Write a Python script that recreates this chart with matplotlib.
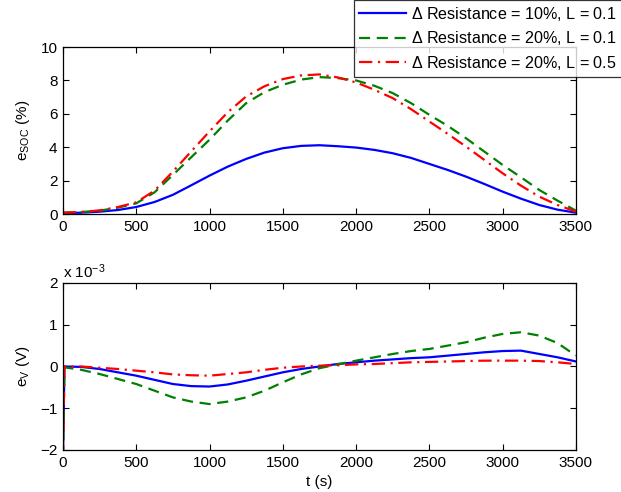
import matplotlib
matplotlib.use("Agg")
import matplotlib.pyplot as plt
import numpy as np

plt.rcParams['font.family'] = ['Liberation Sans', 'DejaVu Sans']
plt.rcParams['mathtext.fontset'] = 'custom'
plt.rcParams['mathtext.rm'] = 'Liberation Sans'
plt.rcParams['mathtext.it'] = 'Liberation Sans:italic'
plt.rcParams['font.size'] = 11

# time grid (s)
t_soc = list(range(0, 3501, 125))
# SOC estimation error (%)
soc_r10_l01 = [0.05, 0.08, 0.14, 0.24, 0.42, 0.72, 1.15, 1.72, 2.3, 2.84, 3.3, 3.68, 3.94, 4.08, 4.12,
               4.06, 3.98, 3.84, 3.64, 3.36, 3.0, 2.64, 2.24, 1.8, 1.34, 0.92, 0.54, 0.26, 0.08]
soc_r20_l01 = [0.08, 0.12, 0.2, 0.38, 0.64, 1.3, 2.34, 3.4, 4.45, 5.6, 6.64, 7.3, 7.74, 8.05, 8.2,
               8.14, 8.0, 7.68, 7.24, 6.64, 5.94, 5.28, 4.54, 3.74, 2.94, 2.2, 1.44, 0.8, 0.2]
soc_r20_l05 = [0.08, 0.12, 0.22, 0.42, 0.7, 1.4, 2.54, 3.75, 4.95, 6.1, 7.04, 7.65, 8.08, 8.3, 8.36,
               8.18, 7.88, 7.44, 6.94, 6.28, 5.54, 4.8, 4.04, 3.24, 2.44, 1.7, 1.04, 0.54, 0.14]

# voltage estimation error (V)
t_v = [0, 10] + list(range(125, 3501, 125))
v_r10_l01 = np.array([-2.2, 0.0, -0.01, -0.06, -0.14, -0.22, -0.32, -0.42, -0.47, -0.48, -0.43, -0.34,
                      -0.24, -0.14, -0.06, 0.0, 0.06, 0.1, 0.14, 0.17, 0.2, 0.22, 0.26, 0.3, 0.34,
                      0.37, 0.38, 0.3, 0.22, 0.12]) * 1e-3
v_r20_l01 = np.array([-2.2, -0.02, -0.08, -0.18, -0.3, -0.42, -0.58, -0.74, -0.84, -0.9, -0.84, -0.74,
                      -0.58, -0.38, -0.19, -0.04, 0.05, 0.14, 0.22, 0.3, 0.37, 0.42, 0.5, 0.58, 0.69,
                      0.78, 0.82, 0.74, 0.56, 0.26]) * 1e-3
v_r20_l05 = np.array([-2.2, 0.0, 0.0, -0.03, -0.06, -0.1, -0.14, -0.19, -0.21, -0.22, -0.18, -0.14,
                      -0.08, -0.03, 0.0, 0.02, 0.03, 0.05, 0.06, 0.08, 0.1, 0.11, 0.12, 0.13, 0.14,
                      0.14, 0.14, 0.13, 0.1, 0.06]) * 1e-3

labels = [r'$\Delta$ Resistance = 10%, L = 0.1',
          r'$\Delta$ Resistance = 20%, L = 0.1',
          r'$\Delta$ Resistance = 20%, L = 0.5']

fig = plt.figure(figsize=(6.21, 4.92), dpi=100)
ax1 = fig.add_axes([0.1014, 0.565, 0.826, 0.3394])
ax2 = fig.add_axes([0.1014, 0.0854, 0.826, 0.3394])

lw = 1.6
green_dash = (5, 3)
red_dashdot = (6, 2.5, 1, 2.5)

l1, = ax1.plot(t_soc, soc_r10_l01, color='blue', lw=lw, label=labels[0])
l2, = ax1.plot(t_soc, soc_r20_l01, color='green', lw=lw, dashes=green_dash, label=labels[1])
l3, = ax1.plot(t_soc, soc_r20_l05, color='red', lw=lw, dashes=red_dashdot, label=labels[2])

ax2.plot(t_v, v_r10_l01 * 1e3, color='blue', lw=lw)
ax2.plot(t_v, v_r20_l01 * 1e3, color='green', lw=lw, dashes=green_dash)
ax2.plot(t_v, v_r20_l05 * 1e3, color='red', lw=lw, dashes=red_dashdot)

for ax in (ax1, ax2):
    ax.set_xlim(0, 3500)
    ax.set_xticks(np.arange(0, 3501, 500))
    ax.tick_params(direction='in', top=True, right=True, length=4, width=0.8, labelsize=11, pad=4)
    for s in ax.spines.values():
        s.set_linewidth(0.9)

ax1.set_ylim(0, 10)
ax1.set_yticks(np.arange(0, 11, 2))
ax1.set_ylabel(r'e$_{\mathrm{SOC}}$ (%)', fontsize=11, labelpad=6)

ax2.set_ylim(-2, 2)
ax2.set_yticks([-2, -1, 0, 1, 2])
ax2.set_yticklabels(['\u22122', '\u22121', '0', '1', '2'])
ax2.set_ylabel(r'e$_{\mathrm{V}}$ (V)', fontsize=11, labelpad=6)
ax2.set_xlabel('t (s)', fontsize=11, labelpad=4)
ax2.text(0.0, 1.01, r'x 10$^{-3}$', transform=ax2.transAxes, fontsize=11, va='bottom', ha='left')

leg = fig.legend(handles=[l1, l2, l3], loc='lower left', bbox_to_anchor=(354 / 621, 1 - 77 / 492),
                 prop={'size': 11.6}, frameon=True, fancybox=False, edgecolor='black',
                 handlelength=2.9, handletextpad=0.3, labelspacing=0.4, borderpad=0.32,
                 borderaxespad=0)
leg.get_frame().set_linewidth(0.9)

fig.savefig('out.png', dpi=100)
